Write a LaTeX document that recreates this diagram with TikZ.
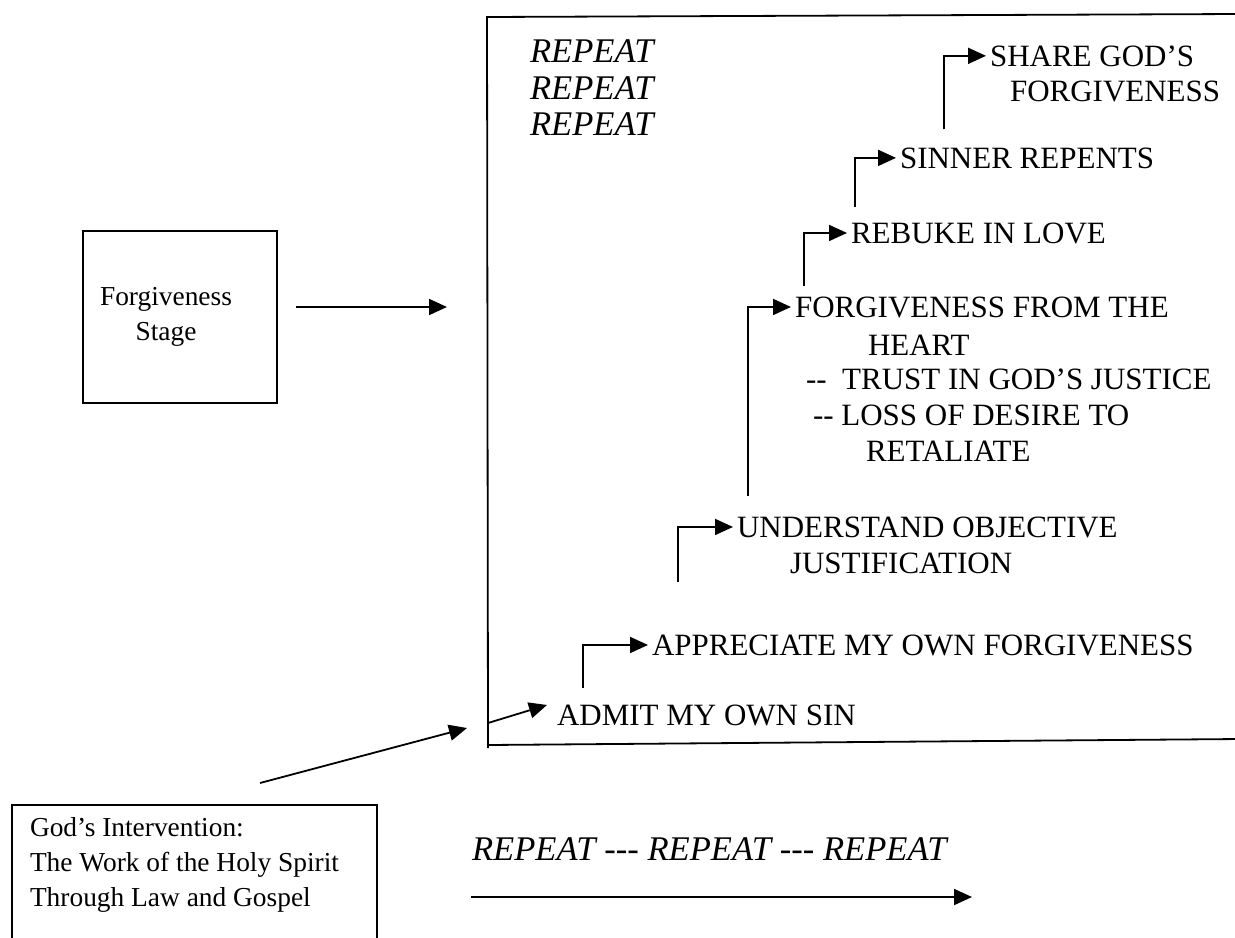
\documentclass[tikz,border=0pt]{standalone}
\usepackage{fontspec}
\setmainfont{Liberation Serif}
\usetikzlibrary{arrows.meta,calc}
\begin{document}
\begin{tikzpicture}[x=0.5pt,y=-0.5pt,
  every node/.style={inner sep=0pt, outer sep=0pt},
  caps/.style={font=\fontsize{15.5}{18}\selectfont, anchor=base west},
  plain/.style={font=\fontsize{13.7}{17.5}\selectfont},
  rep/.style={font=\fontsize{17.3}{18.25}\selectfont\itshape},
  frame/.style={line width=0.9pt},
  conn/.style={line width=0.9pt, -{Triangle[length=9pt,width=8pt]}},
  stepconn/.style={conn, shorten >=2pt}]
\useasboundingbox (0,0) rectangle (1235,937);

% stage frame, open to the right
\draw[frame] (1240,14) -- (487,17) -- (488,748);
\draw[frame] (488,745) -- (1240,739);

% left boxes
\node[draw, frame, minimum width=97pt, minimum height=86pt] (fsbox) at (180,317) {};
\node[plain, align=center] (fstext) at (166,317) {Forgiveness\\Stage};
\draw[frame] (12,950) -- (12,805) -- (377,805) -- (377,950);
\coordinate (gbox) at (194,805);
\node[plain, align=left, anchor=north west] (gods) at (30,817)
  {God’s Intervention:\\The Work of the Holy Spirit\\Through Law and Gospel};

% steps
\node[caps] (admit) at (557,725) {ADMIT MY OWN SIN};
\node[caps] (appr) at (652,655) {APPRECIATE MY OWN FORGIVENESS};
\node[caps] (und) at (737,537) {UNDERSTAND OBJECTIVE};
\node[caps] (und2) at (790,573) {JUSTIFICATION};
\node[caps] (forg) at (795,317) {FORGIVENESS FROM THE};
\node[caps] (forg2) at (868,355) {HEART};
\node[caps] (trust) at (806,389) {-{}-\ \ TRUST IN GOD’S JUSTICE};
\node[caps] (loss) at (813,425) {-{}- LOSS OF DESIRE TO};
\node[caps] (retal) at (866,461) {RETALIATE};
\node[caps] (rebuke) at (851,243) {REBUKE IN LOVE};
\node[caps] (sinner) at (900,168) {SINNER REPENTS};
\node[caps] (share) at (990,66) {SHARE GOD’S};
\node[caps] (share2) at (1010,101) {FORGIVENESS};

\node[rep, align=left, anchor=north west] (rep1) at (530,40) {REPEAT\\REPEAT\\REPEAT};
\node[rep, anchor=base west] (rep2) at (472,860) {REPEAT -{}-{}- REPEAT -{}-{}- REPEAT};

% step connectors
\coordinate (s1) at ($(admit.north west)+(26,-16)$);
\coordinate (s2) at ($(appr.north west)+(26,-52)$);
\coordinate (s3) at ($(und.north west)+(11,-20)$);
\coordinate (s4) at ($(forg.north west)+(9,-10)$);
\coordinate (s5) at ($(rebuke.north west)+(4,-15)$);
\coordinate (s6) at ($(sinner.north west)+(44,-18)$);
\draw[stepconn] (s1) |- (appr.west);
\draw[stepconn] (s2) |- (und.west);
\draw[stepconn] (s3) |- (forg.west);
\draw[stepconn] (s4) |- (rebuke.west);
\draw[stepconn] (s5) |- (sinner.west);
\draw[stepconn] (s6) |- (share.west);

% entry arrows
\coordinate (e1) at (488,723);
\draw[conn] (e1) -- ($(admit.west)+(-10,-10)$);
\coordinate (g1) at ($(gbox)+(66,-22)$);
\coordinate (g2) at (467,728);
\draw[conn] (g1) -- (g2);
\coordinate (f1) at ($(fsbox.east)+(19,-10)$);
\coordinate (f2) at (447,307);
\draw[conn] (f1) -- (f2);
\coordinate (r1) at (471,897);
\coordinate (r2) at (972,897);
\draw[conn] (r1) -- (r2);
\end{tikzpicture}
\end{document}
